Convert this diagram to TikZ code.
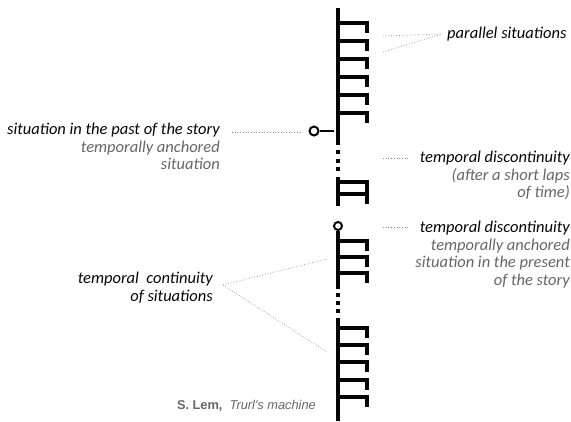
\documentclass[tikz,border=0pt]{standalone}
\usepackage{fontspec}
\setmainfont{Carlito}
\newfontfamily\arialf{Liberation Sans}
\definecolor{txtgray}{HTML}{666666}
\definecolor{ink}{HTML}{050505}
\definecolor{leader}{HTML}{8A8A8A}
\tikzset{
  spine/.style={line width=3.4pt, ink},
  branch/.style={line width=3.4pt, ink, line join=miter},
  dotbox/.style={fill=ink, minimum width=3.4pt, minimum height=4pt, inner sep=0pt, draw=none},
  knob/.style={circle, draw=ink, line width=2pt, fill=white, minimum size=8pt, inner sep=0pt},
  leaderline/.style={leader, dotted, line width=0.7pt},
  lab/.style={font=\itshape\fontsize{16.5}{17.6}\selectfont, inner sep=0pt, align=right, text=ink},
}
\begin{document}
\begin{tikzpicture}[x=1pt,y=-1pt]
\useasboundingbox (0,0) rectangle (571,421);
% top segment
\coordinate (t0) at (338,8);
\coordinate (t1) at (338,145);
\draw[spine] (t0) -- (t1);
\foreach \y in {23,41,59,77,95,113}{
  \draw[branch] (338,\y) -- (367,\y) -- (367,\y+10);
}
% knob of the past
\node[knob, minimum size=9pt] (pastknob) at (314,131) {};
\coordinate (stubend) at (334,131);
\draw[line width=2.8pt, ink] (pastknob.east) -- (stubend);
% dots 1
\foreach \y/\n in {152/a,161/b,169/c}{ \node[dotbox] (d\n) at (338,\y) {}; }
% pair segment
\coordinate (p0) at (338,177);
\coordinate (p1) at (338,206);
\draw[spine] (p0) -- (p1);
\foreach \y in {182,194}{
  \draw[branch] (338,\y) -- (367,\y) -- (367,\y+10);
}
% present knob and middle segment
\node[knob] (nowknob) at (338,226) {};
\coordinate (m1) at (338,289);
\draw[spine] (nowknob.south) -- (m1);
\foreach \y in {241,257,273}{
  \draw[branch] (338,\y) -- (367,\y) -- (367,\y+10);
}
% dots 2
\foreach \y/\n in {295/e,303/f,311/g}{ \node[dotbox] (d\n) at (338,\y) {}; }
% bottom segment
\coordinate (b0) at (338,318);
\coordinate (b1) at (338,421);
\draw[spine] (b0) -- (b1);
\foreach \y in {328,345,362,380,397}{
  \draw[branch] (338,\y) -- (367,\y) -- (367,\y+10);
}
% labels
\node[lab, anchor=west] (par) at (447,34) {parallel situations};
\coordinate (parA) at (383,36);
\coordinate (parB) at (383,52);
\coordinate (parM) at (442,34);
\draw[leaderline] (parA) -- (parM);
\draw[leaderline] (parB) -- (parM);

\node[lab, anchor=north east] (past) at (220,123) {situation in the past of the story\\
  \textcolor{txtgray}{temporally anchored}\\\textcolor{txtgray}{situation}};
\coordinate (pastL) at (232,132);
\coordinate (pastR) at (300,132);
\draw[leaderline] (pastL) -- (pastR);

\node[lab, anchor=north east] (disc1) at (570,151) {temporal discontinuity\\
  \textcolor{txtgray}{(after a short laps}\\\textcolor{txtgray}{of time)}};
\coordinate (d1L) at (383,158);
\coordinate (d1R) at (410,158);
\draw[leaderline] (d1L) -- (d1R);

\node[lab, anchor=north east] (disc2) at (570,221) {temporal discontinuity\\
  \textcolor{txtgray}{temporally anchored}\\\textcolor{txtgray}{situation in the present}\\\textcolor{txtgray}{of the story}};
\coordinate (d2L) at (383,227);
\coordinate (d2R) at (410,227);
\draw[leaderline] (d2L) -- (d2R);

\node[lab, anchor=north east] (cont) at (213,272) {temporal\ \ continuity\\of situations};
\coordinate (cA) at (223,285);
\coordinate (cB) at (327,259);
\coordinate (cC) at (327,352);
\draw[leaderline] (cA) -- (cB);
\draw[leaderline] (cA) -- (cC);

\node[inner sep=0pt, anchor=base east, text=txtgray, font=\arialf\fontsize{12.8}{15}\selectfont] (lem) at (316,409)
  {\textbf{S. Lem,}\ \ \textit{Trurl's machine}};
\end{tikzpicture}
\end{document}
